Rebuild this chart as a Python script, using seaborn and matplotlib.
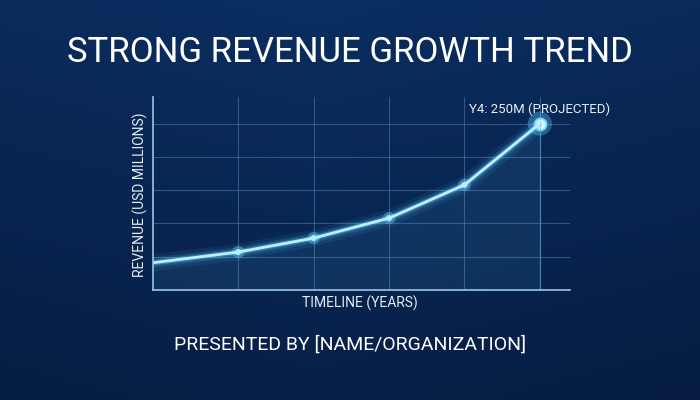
import numpy as np
import matplotlib
matplotlib.use("Agg")
import matplotlib.pyplot as plt
import seaborn as sns
import pandas as pd

years = [-1.13, 0, 1, 2, 3, 4]
revenue = [41, 57, 78, 108, 158, 250]
marker_years = [0, 1, 2, 3]
marker_rev = [57, 78, 108, 158]
title = "STRONG REVENUE GROWTH TREND"
annot = "Y4: 250M (PROJECTED)"
footer = "PRESENTED BY [NAME/ORGANIZATION]"

sns.set_theme(style="dark")
plt.rcParams['font.family'] = ['Roboto', 'DejaVu Sans']

fig = plt.figure(figsize=(7, 4), dpi=100)
bg = fig.add_axes([0, 0, 1, 1], zorder=0)
yy, xx = np.mgrid[0:1:200j, 0:1:350j]
g = 0.55 * yy + 0.25 * np.abs(xx - 0.45)
c0 = np.array([0.04, 0.18, 0.38]); c1 = np.array([0.02, 0.08, 0.20])
img = c0[None, None, :] * (1 - g[..., None]) + c1[None, None, :] * g[..., None]
bg.imshow(img, extent=[0, 1, 0, 1], aspect='auto', origin='upper')
bg.set_axis_off()
fig.text(0.5, 1 - 52 / 400, title, color='white', fontsize=25, ha='center', va='center')
fig.text(0.5, 1 - 345 / 400, footer, color='white', fontsize=14, ha='center', va='center')
fig.text(0.5 + 10 / 700, 1 - 303 / 400, "TIMELINE (YEARS)", color='#e6eef5', fontsize=10, ha='center', va='center')
fig.text(140 / 700, 1 - 195 / 400, "REVENUE (USD MILLIONS)", color='#e6eef5', fontsize=10,
         ha='center', va='center', rotation=90)

df = pd.DataFrame({"year": years, "revenue": revenue})
ax = fig.add_axes([153 / 700, 1 - 290 / 400, 417 / 700, 193 / 400], zorder=1)
ax.set_facecolor((0, 0, 0, 0))
ax.patch.set_alpha(0)

ax.fill_between(df.year, df.revenue, 0, color='#4aa8e0', alpha=0.12)
for lw, a in [(12, 0.08), (7, 0.15), (4, 0.35)]:
    sns.lineplot(data=df, x="year", y="revenue", ax=ax, color='#5fd0ff', lw=lw, alpha=a)
sns.lineplot(data=df, x="year", y="revenue", ax=ax, color='#bdf0ff', lw=2)
sns.scatterplot(x=marker_years, y=marker_rev, ax=ax, s=80, color='#5fd0ff', alpha=0.4, edgecolor='none')
sns.scatterplot(x=marker_years, y=marker_rev, ax=ax, s=20, color='#e8fbff', edgecolor='none')
sns.scatterplot(x=[4], y=[250], ax=ax, s=300, color='#5fd0ff', alpha=0.35, edgecolor='none')
sns.scatterplot(x=[4], y=[250], ax=ax, s=70, color='white', edgecolor='#7fe0ff', linewidth=1.5)
ax.plot([4, 4], [0, 250], color='#4aa8e0', lw=0.8, alpha=0.5)
ax.text(4.0, 272, annot, color='#e6eef5', fontsize=9.5, ha='center', va='center')

ax.set_xlim(-1.13, 4.4)
ax.set_ylim(0, 290)
ax.set_xticks([0, 1, 2, 3, 4])
ax.set_yticks([50, 100, 150, 200, 250])
ax.tick_params(labelbottom=False, labelleft=False, length=0)
ax.set_xlabel("")
ax.set_ylabel("")
ax.grid(True, color='#3f6f9a', lw=0.8, alpha=0.7)
for s in ['top', 'right']:
    ax.spines[s].set_visible(False)
for s in ['left', 'bottom']:
    ax.spines[s].set_visible(True)
    ax.spines[s].set_color('#9cc3e0')
    ax.spines[s].set_linewidth(1.2)

fig.savefig("out.png", dpi=100)
